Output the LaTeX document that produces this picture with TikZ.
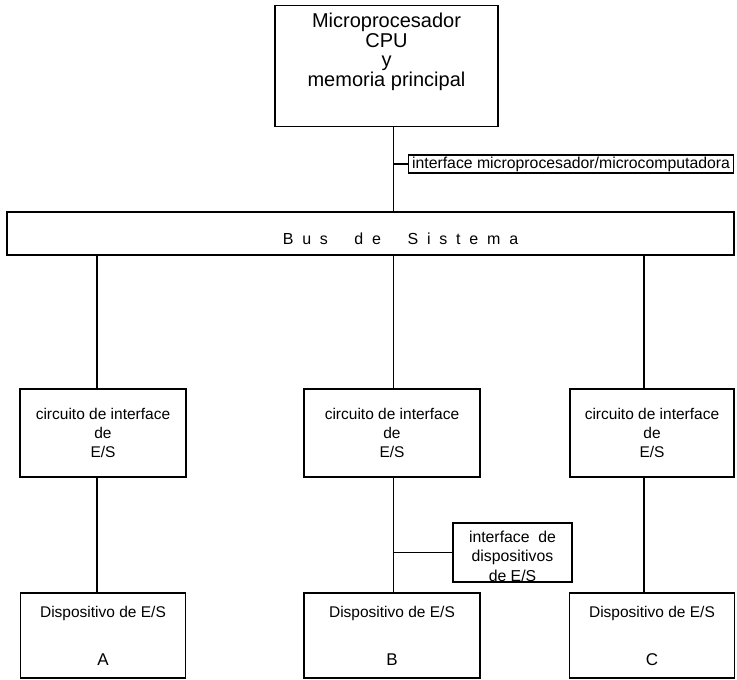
\documentclass[tikz,border=0pt]{standalone}
\usepackage{fontspec}
\setmainfont{Liberation Sans}
\usetikzlibrary{positioning}
\tikzstyle{cpuBox} = [rectangle, draw, line width=1.3pt, align=center, minimum width=223pt, inner ysep=8pt, text depth=32.5pt, font=\fontsize{20}{19.5}\selectfont]
\tikzstyle{busBox} = [rectangle, draw, line width=1.3pt, minimum width=727pt, minimum height=43pt]
\tikzstyle{busText} = [font=\fontsize{16}{19}\selectfont\addfontfeature{LetterSpace=55}]
\tikzstyle{ioBox} = [rectangle, draw, line width=1.3pt, align=center, minimum height=88pt, font=\fontsize{15.5}{19}\selectfont]
\tikzstyle{devBox} = [rectangle, draw, line width=1.3pt, align=center, minimum height=85pt, font=\fontsize{15.5}{19}\selectfont]
\tikzstyle{tagBox} = [rectangle, draw, line width=1.1pt, align=center, inner sep=1pt, font=\fontsize{15.8}{19.5}\selectfont]
\tikzstyle{link} = [line width=1.3pt]
\newcommand{\devname}[1]{Dispositivo de E/S\\[29pt]{\fontsize{17}{19}\selectfont #1}}

\begin{document}
\begin{tikzpicture}
		\useasboundingbox (0,0) rectangle (737pt,-680pt);
		\coordinate (colA) at (97pt,0);
		\coordinate (colB) at (393.5pt,0);
		\coordinate (colC) at (644pt,0);
		
		\node [cpuBox] (cpu) at (386.5pt,-66pt) {Microprocesador\\CPU\\y\\memoria principal};
		\node [busBox,node distance=167.5pt,below of=cpu,xshift=-16pt](bus){};
		\node [busText] (busname) at ([xshift=30pt,yshift=-5pt]bus.center) {Bus\ \ de\ \ Sistema};
		\node [tagBox,anchor=west,minimum width=325pt,minimum height=18pt](tagcpu) at (408pt,-164pt) {interface microprocesador/microcomputadora};
		
		\node [ioBox,node distance=199.5pt,below of=bus,xshift=21.5pt,minimum width=176pt](circB){circuito de interface\\de\\E/S};
		\node [ioBox,node distance=289pt,left of=circB,minimum width=166pt](circA){circuito de interface\\de\\E/S};
		\node [ioBox,node distance=260pt,right of=circB,minimum width=164pt](circC){circuito de interface\\de\\E/S};
		
		\node [devBox,node distance=202.5pt,below of=circA,minimum width=165pt](devA){\devname{A}};
		\node [devBox,node distance=202.5pt,below of=circB,minimum width=176pt](devB){\devname{B}};
		\node [devBox,node distance=202.5pt,below of=circC,minimum width=165pt](devC){\devname{C}};
		
		\node [tagBox,minimum width=119pt,text height=57pt,text depth=0pt](tagdev) at (512.5pt,-552.5pt) {interface\ \ de\\dispositivos\\de E/S};
		
		\draw [link] (cpu.south -| colB) -- (bus.north -| colB);
		\draw [link] (tagcpu.west) -- (tagcpu.west -| colB);
		\foreach \c in {A,B,C}{
			\draw [link] (bus.south -| col\c) -- (circ\c.north -| col\c);
			\draw [link] (circ\c.south -| col\c) -- (dev\c.north -| col\c);
		}
		\draw [link] (tagdev.west) -- (tagdev.west -| colB);
		
\end{tikzpicture}
\end{document}
